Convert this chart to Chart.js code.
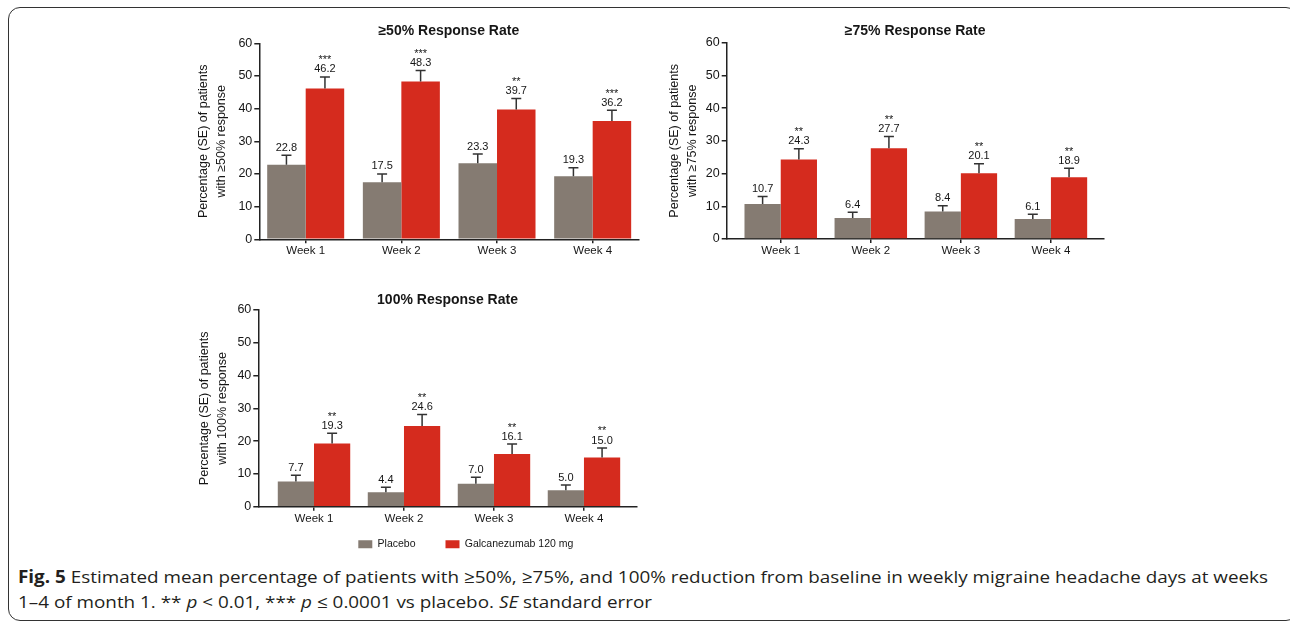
<!DOCTYPE html>
<html><head><meta charset="utf-8">
<script src="https://cdn.jsdelivr.net/npm/chart.js@4.4.1/dist/chart.umd.min.js"></script>
<style>
html,body{margin:0;padding:0;background:#fff;width:1290px;height:622px;overflow:hidden;position:relative;}
#frame{position:absolute;left:8px;top:7px;width:1290px;height:614px;border:1.5px solid #333;border-radius:12px;box-sizing:border-box;}
canvas{position:absolute;}
.cap{position:absolute;left:18px;font-family:'Open Sans','Noto Sans',sans-serif;font-size:17px;line-height:20px;color:#231f20;white-space:nowrap;transform-origin:0 0;}
.cap b{font-weight:700;}
</style></head><body>
<div id="frame"></div>
<div class="cap" id="cap1" style="top:567px"><b>Fig. 5</b> Estimated mean percentage of patients with ≥50%, ≥75%, and 100% reduction from baseline in weekly migraine headache days at weeks</div>
<div class="cap" id="cap2" style="top:592px">1–4 of month 1. ** <i>p</i> &lt; 0.01, *** <i>p</i> ≤ 0.0001 vs placebo. <i>SE</i> standard error</div>
<canvas id="c1"></canvas>
<canvas id="c2"></canvas>
<canvas id="c3"></canvas>
<script>
// ---------- data ----------
const weeks = ['Week 1', 'Week 2', 'Week 3', 'Week 4'];
const seriesNames = ['Placebo', 'Galcanezumab 120 mg'];
const yTicks = [0, 10, 20, 30, 40, 50, 60];

const placebo50 = [22.8, 17.5, 23.3, 19.3];
const galca50 = [46.2, 48.3, 39.7, 36.2];
const placebo50SE = [2.9, 2.5, 2.8, 2.6];
const galca50SE = [3.5, 3.4, 3.4, 3.3];
const galca50Sig = ['***', '***', '**', '***'];

const placebo75 = [10.7, 6.4, 8.4, 6.1];
const galca75 = [24.3, 27.7, 20.1, 18.9];
const placebo75SE = [2.3, 1.8, 1.8, 1.5];
const galca75SE = [3.3, 3.6, 2.9, 2.7];
const galca75Sig = ['**', '**', '**', '**'];

const placebo100 = [7.7, 4.4, 7.0, 5.0];
const galca100 = [19.3, 24.6, 16.1, 15.0];
const placebo100SE = [1.9, 1.5, 2.0, 1.6];
const galca100SE = [3.1, 3.5, 3.0, 2.9];
const galca100Sig = ['**', '**', '**', '**'];

// ---------- styles / layout ----------
const FONT = "'Liberation Sans', Arial, sans-serif";
const TEXT = '#161616';
const AXIS = '#222';
const GRAY = '#857b72';
const RED = '#d52b1e';
Chart.defaults.font.family = FONT;
Chart.defaults.color = TEXT;

const panels = [
  { id: 'c1', title: '≥50% Response Rate', titleY: 31,
    yTitle: ['Percentage (SE) of patients', 'with ≥50% response'], yTitleX: 203.7,
    p: placebo50, g: galca50, pSE: placebo50SE, gSE: galca50SE, sig: galca50Sig,
    canvas: { left: 180, top: 14, width: 470, height: 252 },
    area: { left: 259.3, top: 43.3, right: 638.3, bottom: 239.3 },
    xmin: 0.515, xmax: 4.477, legend: false },
  { id: 'c2', title: '≥75% Response Rate', titleY: 31,
    yTitle: ['Percentage (SE) of patients', 'with ≥75% response'], yTitleX: 675,
    p: placebo75, g: galca75, pSE: placebo75SE, gSE: galca75SE, sig: galca75Sig,
    canvas: { left: 650, top: 14, width: 470, height: 252 },
    area: { left: 726.7, top: 42.7, right: 1103.7, bottom: 239 },
    xmin: 0.4, xmax: 4.586, legend: false },
  { id: 'c3', title: '100% Response Rate', titleY: 300,
    yTitle: ['Percentage (SE) of patients', 'with 100% response'], yTitleX: 204.7,
    p: placebo100, g: galca100, pSE: placebo100SE, gSE: galca100SE, sig: galca100Sig,
    canvas: { left: 180, top: 285, width: 470, height: 300 },
    area: { left: 258.3, top: 310, right: 636.7, bottom: 506.7 },
    xmin: 0.381, xmax: 4.586, legend: { boxLeft: 358.3, boxCenterY: 544.2 } }
];

const errorPlugin = {
  id: 'errbars',
  afterDatasetsDraw(chart) {
    const ctx = chart.ctx, ys = chart.scales.y;
    chart.data.datasets.forEach((ds, di) => {
      const meta = chart.getDatasetMeta(di);
      meta.data.forEach((bar, i) => {
        const v = ds.data[i].y, se = ds.se[i];
        const yTop = ys.getPixelForValue(v + se);
        ctx.save();
        ctx.strokeStyle = '#333';
        ctx.lineWidth = 1.5;
        ctx.beginPath();
        ctx.moveTo(bar.x, bar.y);
        ctx.lineTo(bar.x, yTop);
        ctx.moveTo(bar.x - 5, yTop);
        ctx.lineTo(bar.x + 5, yTop);
        ctx.stroke();
        ctx.fillStyle = TEXT;
        ctx.textAlign = 'center';
        ctx.textBaseline = 'middle';
        ctx.font = '11px ' + FONT;
        ctx.fillText(v.toFixed(1), bar.x, yTop - 7.5);
        if (ds.sig) ctx.fillText(ds.sig[i], bar.x, yTop - 16.6);
        ctx.restore();
      });
    });
  }
};

function legendShift(P) {
  return {
    id: 'legendShift',
    afterLayout(chart) {
      if (!P.legend || !chart.legend) return;
      const lg = chart.legend, o = lg.options.labels;
      const pad = o.padding, fs = o.font.size, itemH = Math.max(fs, o.boxHeight);
      const curStart = (lg.left + pad + lg.right - lg.lineWidths[0]) / 2;
      const dx = (P.legend.boxLeft - P.canvas.left) - curStart;
      lg.left += dx; lg.right += dx;
      const desiredTop = (P.legend.boxCenterY - P.canvas.top) - pad - itemH / 2;
      const dy = desiredTop - lg.top;
      lg.top += dy; lg.bottom += dy;
    }
  };
}

function makePanel(P) {
  const cv = document.getElementById(P.id);
  const C = P.canvas, A = P.area;
  cv.width = C.width; cv.height = C.height;
  cv.style.left = C.left + 'px'; cv.style.top = C.top + 'px';
  const areaL = A.left - C.left, areaT = A.top - C.top, areaR = A.right - C.left, areaB = A.bottom - C.top;
  const tSize = 14, tLH = tSize * 1.2;
  const tPadTop = (P.titleY - C.top) - tLH / 2;
  const tPadBottom = areaT - tPadTop - tLH;
  const yTitleSize = 12.5, yTitleLH = 1.4;
  const yTitlePad = (P.yTitleX - C.left) - yTitleSize * yTitleLH / 2;

  new Chart(cv, {
    type: 'bar',
    data: {
      datasets: [
        { label: seriesNames[0], data: P.p.map((v, i) => ({ x: i + 1, y: v })), backgroundColor: GRAY, se: P.pSE },
        { label: seriesNames[1], data: P.g.map((v, i) => ({ x: i + 1, y: v })), backgroundColor: RED, se: P.gSE, sig: P.sig }
      ]
    },
    options: {
      responsive: false, animation: false, devicePixelRatio: 1,
      layout: { padding: { left: 0, top: 0, right: C.width - areaR, bottom: 0 } },
      datasets: { bar: { categoryPercentage: 0.805, barPercentage: 1, borderWidth: 0 } },
      scales: {
        x: {
          type: 'linear', min: P.xmin, max: P.xmax, offset: false,
          afterBuildTicks: s => { s.ticks = weeks.map((w, i) => ({ value: i + 1 })); },
          afterFit: s => {
            const lg = s.chart.legend;
            const lh = lg ? lg.height : 0;
            s.height = Math.max(1, C.height - lh - areaB);
          },
          grid: { display: true, drawOnChartArea: false, drawTicks: true, tickLength: 4, color: AXIS, lineWidth: 1.5, offset: false },
          border: { display: true, color: AXIS, width: 1.5 },
          ticks: { callback: v => weeks[v - 1], autoSkip: false, maxRotation: 0, padding: 1, color: TEXT, font: { size: 11.5 } }
        },
        y: {
          min: 0, max: 60,
          afterBuildTicks: s => { s.ticks = yTicks.map(v => ({ value: v })); },
          afterFit: s => { s.width = areaL; },
          grid: { drawOnChartArea: false, tickLength: 5, color: AXIS, lineWidth: 1.5 },
          border: { display: true, color: AXIS, width: 1.5 },
          ticks: { padding: 2, color: TEXT, font: { size: 12.5 } },
          title: { display: true, text: P.yTitle, color: TEXT, font: { size: yTitleSize, lineHeight: yTitleLH }, padding: { top: yTitlePad, bottom: 0 } }
        }
      },
      plugins: {
        title: { display: true, text: P.title, fullSize: false, color: TEXT, font: { size: tSize, weight: 'bold' }, padding: { top: tPadTop, bottom: tPadBottom } },
        legend: { display: !!P.legend, position: 'bottom', labels: { boxWidth: 14, boxHeight: 8, padding: 30, color: TEXT, font: { size: 10.5 } } },
        tooltip: { enabled: false }
      }
    },
    plugins: [errorPlugin, legendShift(P)]
  });
}

panels.forEach(makePanel);

// fit caption width to reference line length
(function () {
  const c1 = document.getElementById('cap1'), c2 = document.getElementById('cap2');
  const w = c1.getBoundingClientRect().width;
  const k = 1250 / w;
  c1.style.transform = 'scaleX(' + k + ')';
  c2.style.transform = 'scaleX(' + k + ')';
})();
</script>
</body></html>
